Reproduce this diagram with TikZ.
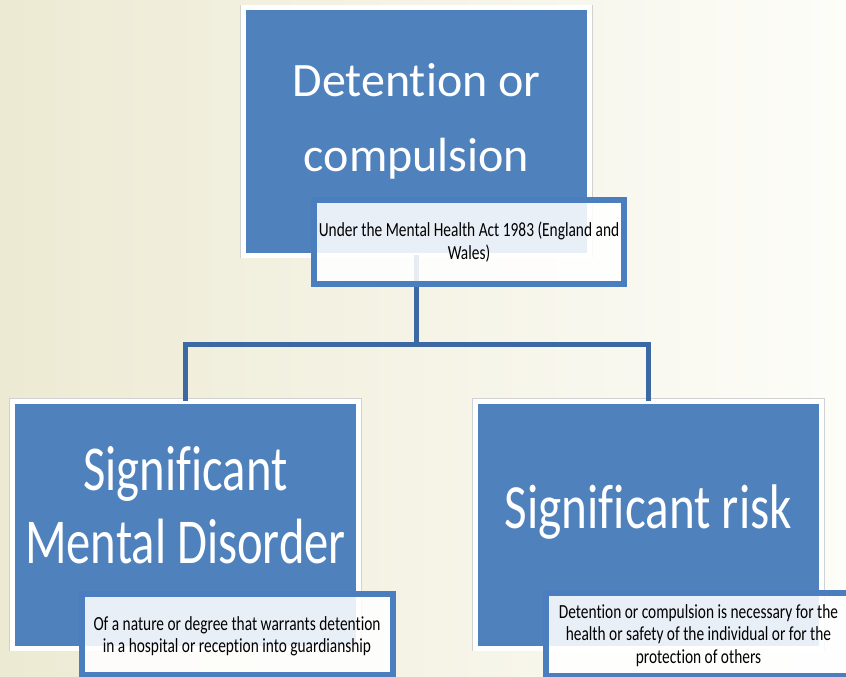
\documentclass[tikz,border=0pt]{standalone}
\usepackage{fontspec}
\setmainfont{Carlito}[Ligatures=NoCommon]
\newcommand{\squash}[2]{\scalebox{#1}[1]{\begin{tabular}[t]{@{}c@{}}#2\end{tabular}}}
\definecolor{boxblue}{RGB}{79,129,189}
\definecolor{noteblue}{RGB}{74,126,191}
\definecolor{linkblue}{RGB}{60,105,163}
\definecolor{bgleft}{RGB}{237,234,211}
\definecolor{bgright}{RGB}{253,253,249}
\begin{document}
\begin{tikzpicture}[
    x = 1pt,
    y = -1pt,
    block/.style = {rectangle, fill=boxblue, draw=white, line width=5pt,
              minimum width=346pt, minimum height=247pt,
              inner sep=0pt, outer sep=0pt,
              preaction={draw=black!18, line width=6.6pt}},
    note/.style = {rectangle, fill=white, fill opacity=0.88, text opacity=1,
              draw=noteblue, line width=6pt, inner sep=0pt, outer sep=0pt},
    title/.style = {text=white, inner sep=0pt, anchor=base},
    small/.style = {text=black, inner sep=0pt, anchor=base,
              font=\fontsize{20}{22.5}\selectfont},
    link/.style = {draw=linkblue, line width=5pt},
    ]

\useasboundingbox (0,0) rectangle (846,677);
\clip (0,0) rectangle (846,677);
\shade [left color=bgleft, right color=bgright] (0,0) rectangle (846,677);

\coordinate (bus) at (0,344.5);

\node[block] (box_top) at (416.5,131.5){};
\node[block] (box_disorder) at (185.5,524.5){};
\node[block] (box_risk) at (648.5,524.5){};

\draw [link] (box_top.south) -- (box_top.south |- bus) -| (box_disorder.north);
\draw [link] (box_top.south |- bus) -| (box_risk.north);

\node[title, font=\fontsize{48}{75}\selectfont] (title_top) at (416.5,96.7)
    {\squash{1}{Detention or\\compulsion}};
\node[title, font=\fontsize{64}{73}\selectfont] (title_disorder) at (185.5,490)
    {\squash{0.76}{Significant\\Mental Disorder}};
\node[title, font=\fontsize{63}{73}\selectfont] (title_risk) at (648.5,528)
    {\squash{0.78}{Significant risk}};

\node[note, minimum width=310pt, minimum height=83.5pt] (note_top) at (469,241.75){};
\node[note, minimum width=311.5pt, minimum height=81.5pt] (note_disorder) at (237.25,634.25){};
\node[note, minimum width=305pt, minimum height=83.5pt] (note_risk) at (698.5,634.25){};

\node[small] (text_top) at (469,236.7)
    {\squash{0.77}{Under the Mental Health Act 1983 (England and\\Wales)}};
\node[small] (text_disorder) at (237,630)
    {\squash{0.77}{Of a nature or degree that warrants detention\\in a hospital or reception into guardianship}};
\node[small] (text_risk) at (698.5,618)
    {\squash{0.77}{Detention or compulsion is necessary for the\\health or safety of the individual or for the\\protection of others}};

\end{tikzpicture}
\end{document}
